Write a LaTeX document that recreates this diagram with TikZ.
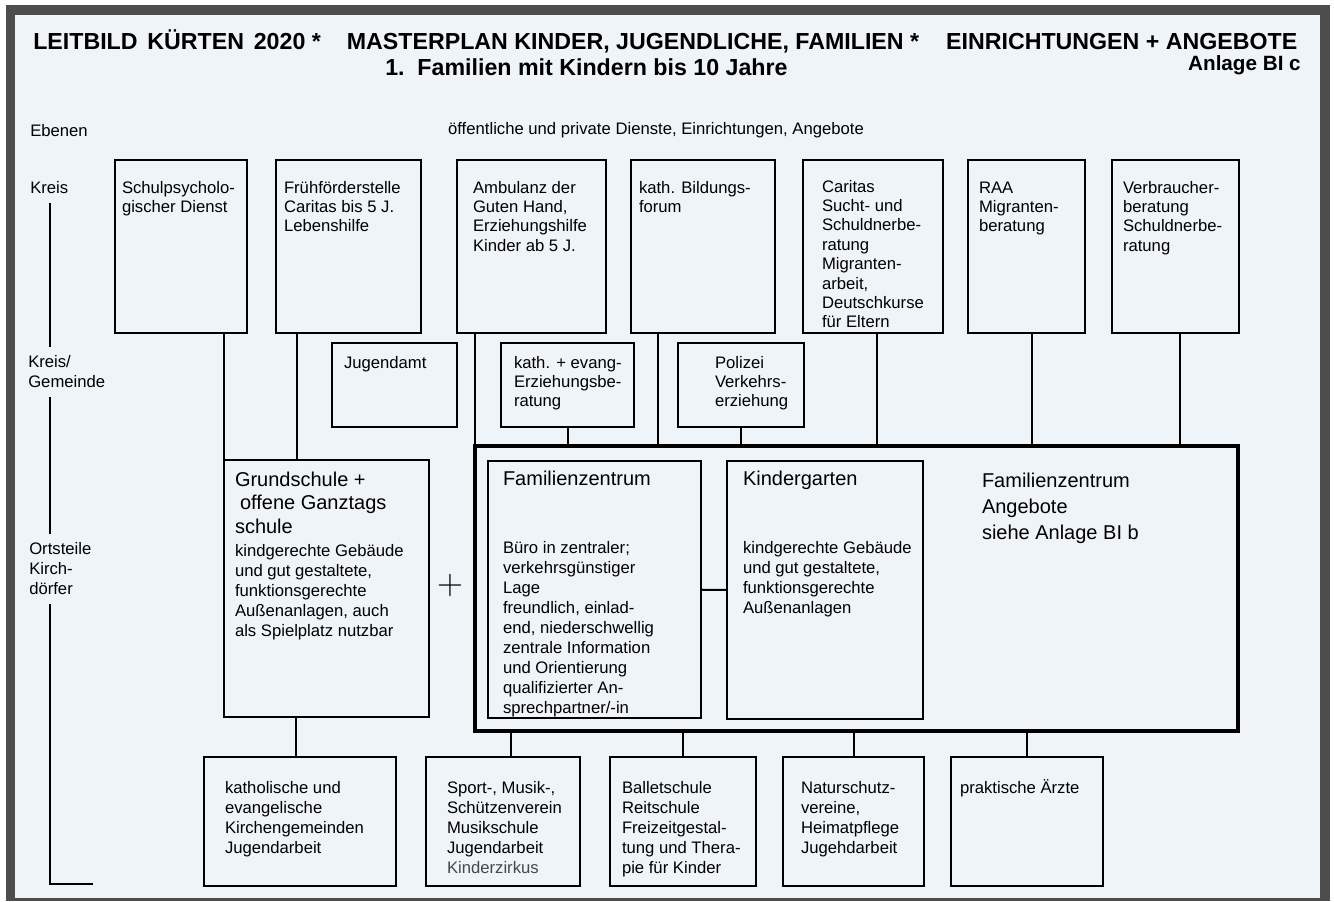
\documentclass[tikz,border=0pt]{standalone}
\usepackage{fontspec}
\setsansfont{Liberation Sans}
\renewcommand{\familydefault}{\sfdefault}
\usepackage{tikz}
\usetikzlibrary{chains,positioning}

\newdimen\px \px=0.75pt
\definecolor{paper}{RGB}{239,244,248}
\definecolor{frame}{RGB}{77,77,77}
\newcommand\kbfont{\fontsize{12.5pt}{15pt}\selectfont}
\newcommand\hdfont{\fontsize{15pt}{17.6pt}\selectfont}
\newcommand\toprow{\baselineskip=19.4\px\relax}
% box text: [left pad]{width}{height}{top pad}{text}
\newcommand\kbtext[5][8]{\parbox[t][#3\px][t]{#2\px}{\kbfont\raggedright\leftskip=#1\px\relax\vspace*{#4\px}\strut#5}}

\tikzset{
  kbox/.style={draw, line width=1.6pt, anchor=north west, inner sep=0pt, outer sep=0pt},
  bigbox/.style={kbox, line width=3pt},
  link/.style={draw, line width=1.5pt},
  axis/.style={line width=1.5pt, shorten <=9\px, shorten >=9\px},
  level/.style={anchor=west, align=left, inner sep=0pt, font=\kbfont},
  headline/.style={anchor=west, inner sep=0pt, font=\fontsize{17.4pt}{20pt}\selectfont\bfseries}
}

\begin{document}
\begin{tikzpicture}[x=0.75pt, y=-0.75pt]
\useasboundingbox (0,0) rectangle (1334,901);
\fill[white] (0,0) rectangle (1334,901);
\fill[frame] (6,5) rectangle (1330,901);
\fill[paper] (15,15) rectangle (1320,898);

% heading
\node[headline] (title) at (33,41)
  {LEITBILD\hspace{0.42em}KÜRTEN\hspace{0.42em}2020 *\hspace{26\px}MASTERPLAN KINDER, JUGENDLICHE, FAMILIEN *\hspace{27\px}EINRICHTUNGEN + ANGEBOTE};
\node[headline] (subtitle) at (385,67) {1.\ \ Familien mit Kindern bis 10 Jahre};
\node[anchor=east, inner sep=0pt, font=\fontsize{15.5pt}{18pt}\selectfont\bfseries] (anlage) at (1301,65) {Anlage BI c};

% levels
\node[level] (ebenen) at (30,131) {Ebenen};
\node[level] (kreis) at (30,188) {Kreis};
\node[level] (kreisgem) at (28,372) {Kreis/\\Gemeinde};
\node[level] (orts) at (29,569) {Ortsteile\\Kirch-\\dörfer};
\node[inner sep=0pt, font=\kbfont] (dienste) at (656,130) {öffentliche und private Dienste, Einrichtungen, Angebote};

% Kreis
\begin{scope}[start chain=kreisrow going right, node distance=27\px]
\node[kbox, on chain] (schulpsy) at (115,160) {\kbtext[7]{132}{173}{19}{\toprow Schulpsycholo-\\gischer Dienst}};
\node[kbox, on chain, xshift=2\px] (fruehf) {\kbtext{145}{173}{19}{\toprow Frühförderstelle\\Caritas bis 5 J.\\Lebenshilfe}};
\node[kbox, on chain, xshift=9\px] (ambul) {\kbtext[16]{149}{173}{19}{\toprow Ambulanz der\\Guten Hand,\\Erziehungshilfe\\Kinder ab 5 J.}};
\node[kbox, on chain, xshift=-2\px] (bildung) {\kbtext{144}{173}{19}{\toprow kath. Bildungs-\\forum}};
\node[kbox, on chain, xshift=1\px] (caritas) {\kbtext[19]{140}{173}{18}{\toprow Caritas\\Sucht- und\\Schuldnerbe-\\ratung\\Migranten-\\arbeit,\\Deutschkurse\\für Eltern}};
\node[kbox, on chain, xshift=-2\px] (raa) {\kbtext[11]{117}{173}{19}{\toprow RAA\\Migranten-\\beratung}};
\node[kbox, on chain] (verbr) {\kbtext[11]{127}{173}{19}{\toprow Verbraucher-\\beratung\\Schuldnerbe-\\ratung}};
\end{scope}

% Kreis/Gemeinde
\begin{scope}[start chain=gemrow going right, node distance=44\px]
\node[kbox, on chain] (jugamt) at (332,343) {\kbtext[12]{125}{84}{11}{Jugendamt}};
\node[kbox, on chain] (erzber) {\kbtext[13]{133}{84}{11}{\toprow kath. + evang-\\Erziehungsbe-\\ratung}};
\node[kbox, on chain] (polizei) {\kbtext[37]{126}{84}{11}{\toprow Polizei\\Verkehrs-\\erziehung}};
\end{scope}

% Ortsteile
\node[kbox] (grund) at (224,460) {\kbtext[11]{205}{257}{12}{{\hdfont Grundschule +\\\hspace*{5\px}offene Ganztags\\schule\par}\vspace{3\px}kindgerechte Gebäude\\und gut gestaltete,\\funktionsgerechte\\Außenanlagen, auch\\als Spielplatz nutzbar}};
\node[font=\rmfamily\fontsize{27pt}{27pt}\selectfont, inner sep=0pt] (plus) at (450,586) {+};
\node[bigbox] (fzall) at (475,446) {\kbtext[507]{763}{285}{27}{\fontsize{15pt}{19.5pt}\selectfont Familienzentrum\\Angebote\\siehe Anlage BI b}};
\node[kbox] (famz) at (488,461) {\kbtext[15]{213}{257}{10}{{\hdfont Familienzentrum\par}\vspace{48\px}Büro in zentraler;\\verkehrsgünstiger\\Lage\\freundlich, einlad-\\end, niederschwellig\\zentrale Information\\und Orientierung\\qualifizierter An-\\sprechpartner/-in}};
\node[kbox] (kiga) at (727,461) {\kbtext[16]{196}{258}{10}{{\hdfont Kindergarten\par}\vspace{48\px}kindgerechte Gebäude\\und gut gestaltete,\\funktionsgerechte\\Außenanlagen}};

% Vereine und Dienste vor Ort
\begin{scope}[start chain=ortrow going right, node distance=30\px]
\node[kbox, on chain] (kirche) at (204,757) {\kbtext[21]{192}{129}{22}{katholische und\\evangelische\\Kirchengemeinden\\Jugendarbeit}};
\node[kbox, on chain] (verein) {\kbtext[21]{154}{129}{22}{Sport-, Musik-,\\Schützenverein\\Musikschule\\Jugendarbeit\\{\color{black!72}Kinderzirkus}}};
\node[kbox, on chain] (ballett) {\kbtext[12]{146}{129}{22}{Balletschule\\Reitschule\\Freizeitgestal-\\tung und Thera-\\pie für Kinder}};
\node[kbox, on chain, xshift=-3\px] (natur) {\kbtext[18]{141}{129}{22}{Naturschutz-\\vereine,\\Heimatpflege\\Jugehdarbeit}};
\node[kbox, on chain, xshift=-3\px] (aerzte) {\kbtext[9]{152}{129}{22}{praktische Ärzte}};
\end{scope}

% connections
\draw[link] (grund.north west |- schulpsy.south) -- (grund.north west);
\draw[link] ([xshift=21\px]fruehf.south west) -- ([xshift=21\px]fruehf.south west |- grund.north);
\draw[link] (fzall.north west |- ambul.south) -- (fzall.north west);
\draw[link] (erzber.south) -- (erzber.south |- fzall.north);
\draw[link] ([xshift=27\px]bildung.south west) -- ([xshift=27\px]bildung.south west |- fzall.north);
\draw[link] (polizei.south) -- (polizei.south |- fzall.north);
\draw[link] ([xshift=4\px]caritas.south) -- ([xshift=4\px]caritas.south |- fzall.north);
\draw[link] ([xshift=5\px]raa.south) -- ([xshift=5\px]raa.south |- fzall.north);
\draw[link] ([xshift=4\px]verbr.south) -- ([xshift=4\px]verbr.south |- fzall.north);
\draw[link] (famz) -- (kiga);
\draw[link] ([xshift=72\px]grund.south west) -- ([xshift=72\px]grund.south west |- kirche.north);
\draw[link] ([xshift=8\px]verein.north |- fzall.south) -- ([xshift=8\px]verein.north);
\draw[link] (ballett.north |- fzall.south) -- (ballett.north);
\draw[link] (natur.north |- fzall.south) -- (natur.north);
\draw[link] (aerzte.north |- fzall.south) -- (aerzte.north);

% level axis
\coordinate (axbot) at (50,884);
\coordinate (axend) at (93,884);
\draw[axis] (kreis.south -| axbot) -- (kreisgem.north -| axbot);
\draw[axis] (kreisgem.south -| axbot) -- (orts.north -| axbot);
\draw[axis, shorten >=0pt] (orts.south -| axbot) -- (axbot) -- (axend);
\end{tikzpicture}
\end{document}
